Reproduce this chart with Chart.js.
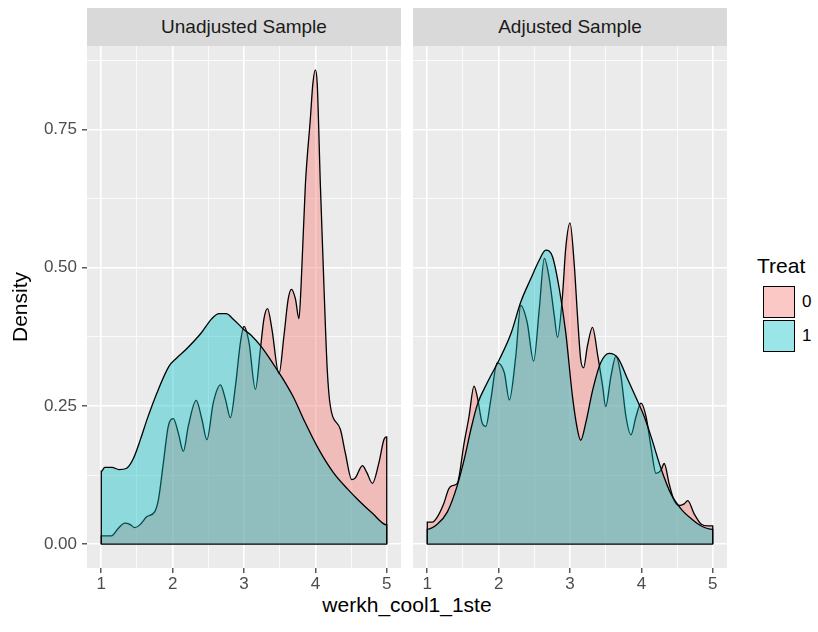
<!DOCTYPE html>
<html>
<head>
<meta charset="utf-8">
<title>Density by Treat</title>
<script src="https://cdn.jsdelivr.net/npm/chart.js@4.4.1/dist/chart.umd.min.js"></script>
<style>
    body { margin: 0; background: #fff; font-family: 'Liberation Sans', Arial, sans-serif; }
    #wrap { position: relative; width: 818px; height: 632px; overflow: hidden; }
    .strip { position: absolute; top: 8px; height: 38px; background: #D9D9D9; color: #1A1A1A;
             font-size: 19px; line-height: 38px; text-align: center; }
    .panel { position: absolute; top: 46px; height: 546px; }
    .ytitle { position: absolute; left: 20px; top: 307px; font-size: 21px; color: #000;
              transform: translate(-50%, -50%) rotate(-90deg); white-space: nowrap; }
    .xtitle { position: absolute; left: 407px; top: 605px; font-size: 21px; color: #000;
              transform: translate(-50%, -50%); white-space: nowrap; }
    .leg-title { position: absolute; left: 757px; top: 254px; font-size: 21px; color: #000; }
    .leg-key { position: absolute; left: 763px; width: 30px; height: 30px; border: 1px solid #000; }
    .leg-lab { position: absolute; left: 802px; font-size: 17px; color: #000; line-height: 20px; }
</style>
</head>
<body>
<div id="wrap">
    <div class="strip" style="left:87px; width:314px;">Unadjusted Sample</div>
    <div class="strip" style="left:413px; width:314px;">Adjusted Sample</div>
    <div class="panel" style="left:0; width:401px;"><canvas id="left" width="401" height="546"></canvas></div>
    <div class="panel" style="left:413px; width:314px;"><canvas id="right" width="314" height="546"></canvas></div>
    <div class="ytitle">Density</div>
    <div class="xtitle">werkh_cool1_1ste</div>
    <div class="leg-title">Treat</div>
    <div class="leg-key" style="top:286px; background:rgba(248,118,109,0.4);"></div>
    <div class="leg-key" style="top:320px; background:rgba(0,191,196,0.4);"></div>
    <div class="leg-lab" style="top:292px;">0</div>
    <div class="leg-lab" style="top:326px;">1</div>
</div>
<script>
// tick values (majors get labels, minors only a thin grid line)
const xMajor = [1, 2, 3, 4, 5];
const xMinor = [1.5, 2.5, 3.5, 4.5];
const yMajor = [0, 0.25, 0.5, 0.75];
const yMinor = [0.125, 0.375, 0.625, 0.875];
const xRange = [0.8, 5.2];
const yRange = [-0.043, 0.901];

// Unadjusted sample, Treat 0
const unadj0X = [1.0, 1.14, 1.24, 1.33, 1.40, 1.47, 1.54, 1.64, 1.75, 1.80, 1.87, 1.94, 2.01, 2.08, 2.15,
    2.22, 2.33, 2.41, 2.48, 2.57, 2.67, 2.74, 2.81, 2.88, 2.95, 3.0, 3.07, 3.16, 3.23, 3.28, 3.33, 3.39,
    3.49, 3.56, 3.62, 3.665, 3.72, 3.77, 3.80, 3.86, 3.93, 3.965, 4.0, 4.026, 4.07, 4.12, 4.166, 4.21,
    4.35, 4.42, 4.51, 4.56, 4.66, 4.72, 4.80, 4.89, 4.96, 5.0];
const unadj0Y = [0.015, 0.015, 0.029, 0.038, 0.036, 0.030, 0.035, 0.05, 0.059, 0.08, 0.147, 0.214, 0.227, 0.201, 0.168,
    0.214, 0.26, 0.226, 0.189, 0.256, 0.288, 0.262, 0.229, 0.286, 0.365, 0.394, 0.365, 0.28, 0.353, 0.408, 0.426, 0.39,
    0.308, 0.377, 0.444, 0.461, 0.444, 0.408, 0.468, 0.65, 0.77, 0.833, 0.858, 0.833, 0.65, 0.468, 0.317, 0.25,
    0.208, 0.165, 0.117, 0.12, 0.142, 0.13, 0.11, 0.147, 0.189, 0.194];

// Unadjusted sample, Treat 1
const unadj1X = [1.0, 1.05, 1.15, 1.25, 1.35, 1.45, 1.55, 1.65, 1.8, 1.95, 2.05, 2.2, 2.4, 2.55, 2.65, 2.75,
    2.85, 3.0, 3.1, 3.25, 3.4, 3.55, 3.7, 3.85, 4.05, 4.25, 4.45, 4.6, 4.8, 5.0];
const unadj1Y = [0.132, 0.139, 0.139, 0.135, 0.137, 0.155, 0.19, 0.229, 0.28, 0.322, 0.336, 0.354, 0.382, 0.408, 0.417, 0.417,
    0.407, 0.388, 0.378, 0.356, 0.328, 0.298, 0.264, 0.222, 0.171, 0.13, 0.1, 0.08, 0.056, 0.035];

// Adjusted sample, Treat 0
const adj0X = [1.0, 1.07, 1.14, 1.23, 1.3, 1.35, 1.42, 1.515, 1.585, 1.655, 1.70, 1.77, 1.82, 1.89, 1.98, 2.08,
    2.15, 2.24, 2.31, 2.40, 2.49, 2.57, 2.64, 2.71, 2.78, 2.825, 2.895, 2.94, 3.0, 3.06, 3.105, 3.15, 3.19,
    3.245, 3.315, 3.39, 3.457, 3.50, 3.574, 3.644, 3.714, 3.784, 3.854, 3.925, 3.995, 4.065, 4.135, 4.205,
    4.275, 4.32, 4.39, 4.46, 4.53, 4.60, 4.65, 4.74, 4.84, 4.93, 5.0];
const adj0Y = [0.04, 0.04, 0.049, 0.073, 0.1, 0.106, 0.11, 0.182, 0.231, 0.286, 0.267, 0.219, 0.213, 0.261, 0.328, 0.31,
    0.261, 0.34, 0.432, 0.401, 0.331, 0.426, 0.517, 0.48, 0.413, 0.374, 0.45, 0.535, 0.581, 0.505, 0.413, 0.334, 0.319,
    0.359, 0.392, 0.34, 0.286, 0.249, 0.304, 0.34, 0.304, 0.231, 0.198, 0.231, 0.255, 0.231, 0.176, 0.128,
    0.134, 0.146, 0.109, 0.079, 0.07, 0.073, 0.079, 0.055, 0.036, 0.033, 0.033];

// Adjusted sample, Treat 1
const adj1X = [1.0, 1.14, 1.28, 1.42, 1.515, 1.61, 1.70, 1.84, 2.01, 2.17, 2.31, 2.45, 2.57, 2.66, 2.755, 2.85,
    2.94, 3.035, 3.105, 3.15, 3.22, 3.32, 3.43, 3.55, 3.67, 3.81, 3.95, 4.04, 4.135, 4.275, 4.415, 4.555,
    4.70, 4.84, 5.0];
const adj1Y = [0.027, 0.036, 0.058, 0.106, 0.152, 0.207, 0.252, 0.292, 0.334, 0.38, 0.438, 0.48, 0.514, 0.532, 0.52, 0.462,
    0.383, 0.267, 0.207, 0.188, 0.219, 0.28, 0.328, 0.345, 0.337, 0.298, 0.258, 0.231, 0.195, 0.137, 0.091, 0.064,
    0.046, 0.033, 0.027];

const FILL0 = 'rgba(248,118,109,0.4)';
const FILL1 = 'rgba(0,191,196,0.4)';
const FONT = "'Liberation Sans', Arial, sans-serif";

// closed density polygon: drop to zero at both ends like geom_density
function polygon(xs, ys) {
    const pts = xs.map(function(x, i) { return { x: x, y: ys[i] }; });
    return [{ x: xs[0], y: 0 }].concat(pts, [{ x: xs[xs.length - 1], y: 0 }]);
}

function isMajor(list, v) {
    return list.some(function(m) { return Math.abs(m - v) < 1e-6; });
}

const panelBg = {
    id: 'panelBg',
    beforeDraw: function(chart) {
        const a = chart.chartArea;
        const ctx = chart.ctx;
        ctx.save();
        ctx.fillStyle = '#EBEBEB';
        ctx.fillRect(a.left, a.top, a.right - a.left, a.bottom - a.top);
        ctx.restore();
    }
};

function areaSet(data, fill, order) {
    return {
        data: data,
        parsing: true,
        borderColor: '#000',
        borderWidth: 1.3,
        backgroundColor: fill,
        fill: 'origin',
        pointRadius: 0,
        cubicInterpolationMode: 'monotone',
        order: order
    };
}

function makePanel(id, curve0, curve1, showY) {
    const datasets = [
        { data: [{ x: xMajor[0], y: 0 }, { x: xMajor[xMajor.length - 1], y: 0 }],
          borderColor: '#000', borderWidth: 1.3, pointRadius: 0, fill: false, order: 0 },
        areaSet(curve1, FILL1, 1),
        areaSet(curve0, FILL0, 2)
    ];

    return new Chart(document.getElementById(id), {
        type: 'line',
        data: { datasets: datasets },
        plugins: [panelBg],
        options: {
            responsive: false,
            animation: false,
            layout: { padding: 0 },
            plugins: { legend: { display: false }, tooltip: { enabled: false } },
            scales: {
                x: {
                    type: 'linear',
                    min: xRange[0],
                    max: xRange[1],
                    afterBuildTicks: function(scale) {
                        scale.ticks = xMajor.concat(xMinor).sort().map(function(v) { return { value: v }; });
                    },
                    afterFit: function(scale) {
                        scale.height = 24;
                        scale.paddingLeft = 0;
                        scale.paddingRight = 0;
                    },
                    border: { display: false },
                    grid: {
                        color: '#FFFFFF',
                        lineWidth: function(c) { return isMajor(xMajor, c.tick.value) ? 1.6 : 0.8; },
                        tickColor: function(c) { return isMajor(xMajor, c.tick.value) ? '#333333' : 'rgba(0,0,0,0)'; },
                        tickWidth: 1.2,
                        tickLength: 5
                    },
                    ticks: {
                        autoSkip: false,
                        maxRotation: 0,
                        padding: 1,
                        color: '#4D4D4D',
                        font: { family: FONT, size: 17 },
                        callback: function(v) { return isMajor(xMajor, v) ? String(v) : ''; }
                    }
                },
                y: {
                    type: 'linear',
                    min: yRange[0],
                    max: yRange[1],
                    afterBuildTicks: function(scale) {
                        scale.ticks = yMajor.concat(yMinor).sort().map(function(v) { return { value: v }; });
                    },
                    afterFit: function(scale) {
                        scale.width = showY ? 87 : 0;
                        scale.paddingTop = 0;
                        scale.paddingBottom = 0;
                    },
                    border: { display: false },
                    grid: {
                        color: '#FFFFFF',
                        lineWidth: function(c) { return isMajor(yMajor, c.tick.value) ? 1.6 : 0.8; },
                        tickColor: function(c) { return isMajor(yMajor, c.tick.value) ? '#333333' : 'rgba(0,0,0,0)'; },
                        tickWidth: 1.2,
                        tickLength: showY ? 5 : 0,
                        drawTicks: showY
                    },
                    ticks: {
                        display: showY,
                        autoSkip: false,
                        padding: 5,
                        color: '#4D4D4D',
                        font: { family: FONT, size: 17 },
                        callback: function(v) { return isMajor(yMajor, v) ? v.toFixed(2) : ''; }
                    }
                }
            }
        }
    });
}

makePanel('left', polygon(unadj0X, unadj0Y), polygon(unadj1X, unadj1Y), true);
makePanel('right', polygon(adj0X, adj0Y), polygon(adj1X, adj1Y), false);
</script>
</body>
</html>
